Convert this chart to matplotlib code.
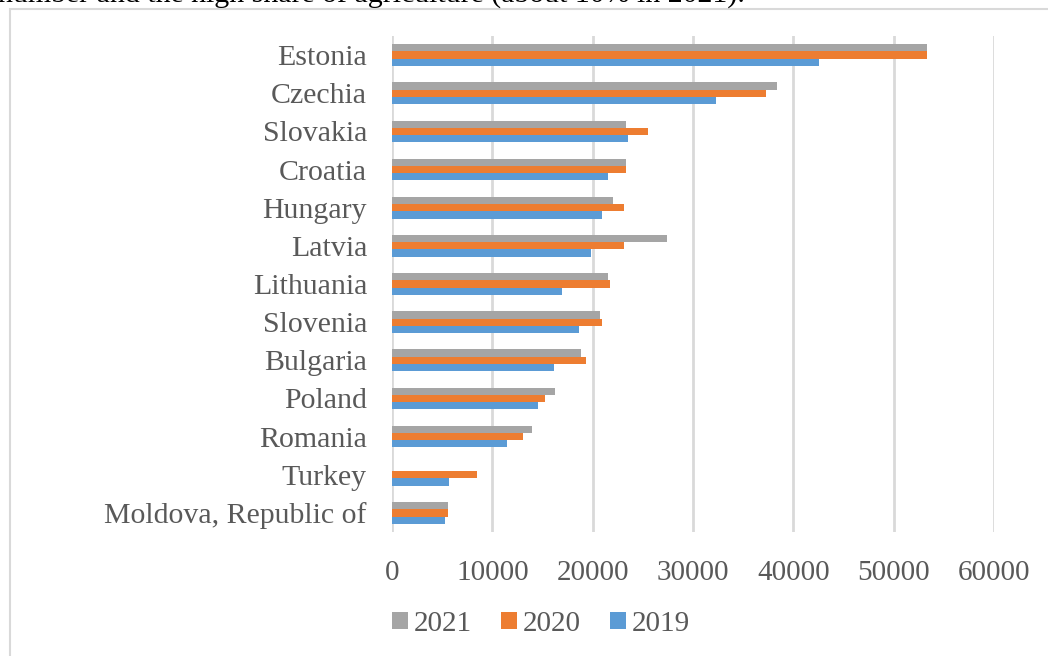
import matplotlib
matplotlib.use("Agg")
import matplotlib.pyplot as plt
import numpy as np
from matplotlib.patches import Rectangle

countries = ["Estonia", "Czechia", "Slovakia", "Croatia", "Hungary", "Latvia",
             "Lithuania", "Slovenia", "Bulgaria", "Poland", "Romania", "Turkey",
             "Moldova, Republic of"]
y2021 = [53300, 38400, 23300, 23300, 22000, 27400, 21500, 20700, 18800, 16200, 14000, 0, 5600]
y2020 = [53300, 37300, 25500, 23300, 23100, 23100, 21700, 20900, 19300, 15200, 13100, 8500, 5600]
y2019 = [42600, 32300, 23500, 21500, 20900, 19800, 16900, 18600, 16100, 14600, 11500, 5700, 5300]
xticks = [0, 10000, 20000, 30000, 40000, 50000, 60000]

GREY, ORANGE, BLUE = "#A5A5A5", "#ED7D31", "#5B9BD5"
TXT = "#595959"
plt.rcParams["font.family"] = ["Liberation Serif", "DejaVu Serif"]

fig = plt.figure(figsize=(10.48, 6.56), dpi=100)
ax = fig.add_axes([392 / 1048, 124 / 656, 602 / 1048, 496 / 656])

pos = np.arange(len(countries))
h = 0.19
ax.barh(pos - h, y2021, height=h, color=GREY, label="2021")
ax.barh(pos, y2020, height=h, color=ORANGE, label="2020")
ax.barh(pos + h, y2019, height=h, color=BLUE, label="2019")

ax.set_ylim(len(countries) - 0.5, -0.5)
ax.set_xlim(0, 60000)
ax.set_yticks(pos)
ax.set_yticklabels(countries, fontsize=21.5, color=TXT)
ax.set_xticks(xticks)
ax.set_xticklabels([str(t) for t in xticks], fontsize=21, color=TXT)
ax.tick_params(length=0)
ax.tick_params(axis="y", pad=18)
ax.tick_params(axis="x", pad=20)
for s in ax.spines.values():
    s.set_visible(False)
ax.grid(axis="x", color="#D9D9D9", linewidth=2)
ax.set_axisbelow(True)

# legend in the order 2021, 2020, 2019
leg = fig.legend(loc="center", bbox_to_anchor=(541 / 1048, 1 - 624 / 656), ncol=3,
                 frameon=False, fontsize=21, handlelength=0.55, handleheight=0.55,
                 handletextpad=0.2, columnspacing=1.0)
for t in leg.get_texts():
    t.set_color(TXT)

# chart border and the line of body text above it
fig.add_artist(Rectangle((10 / 1048, -0.1), 1.2, 1.1 - 9 / 656, transform=fig.transFigure,
                         fill=False, edgecolor="#D9D9D9", linewidth=1.5))
fig.text(-2 / 1048, 1 - 3 / 656, "number and the high share of agriculture (about 10% in 2021).",
         fontsize=21.5, color="black", va="baseline", ha="left")

fig.savefig("out.png", dpi=100, facecolor="white")
